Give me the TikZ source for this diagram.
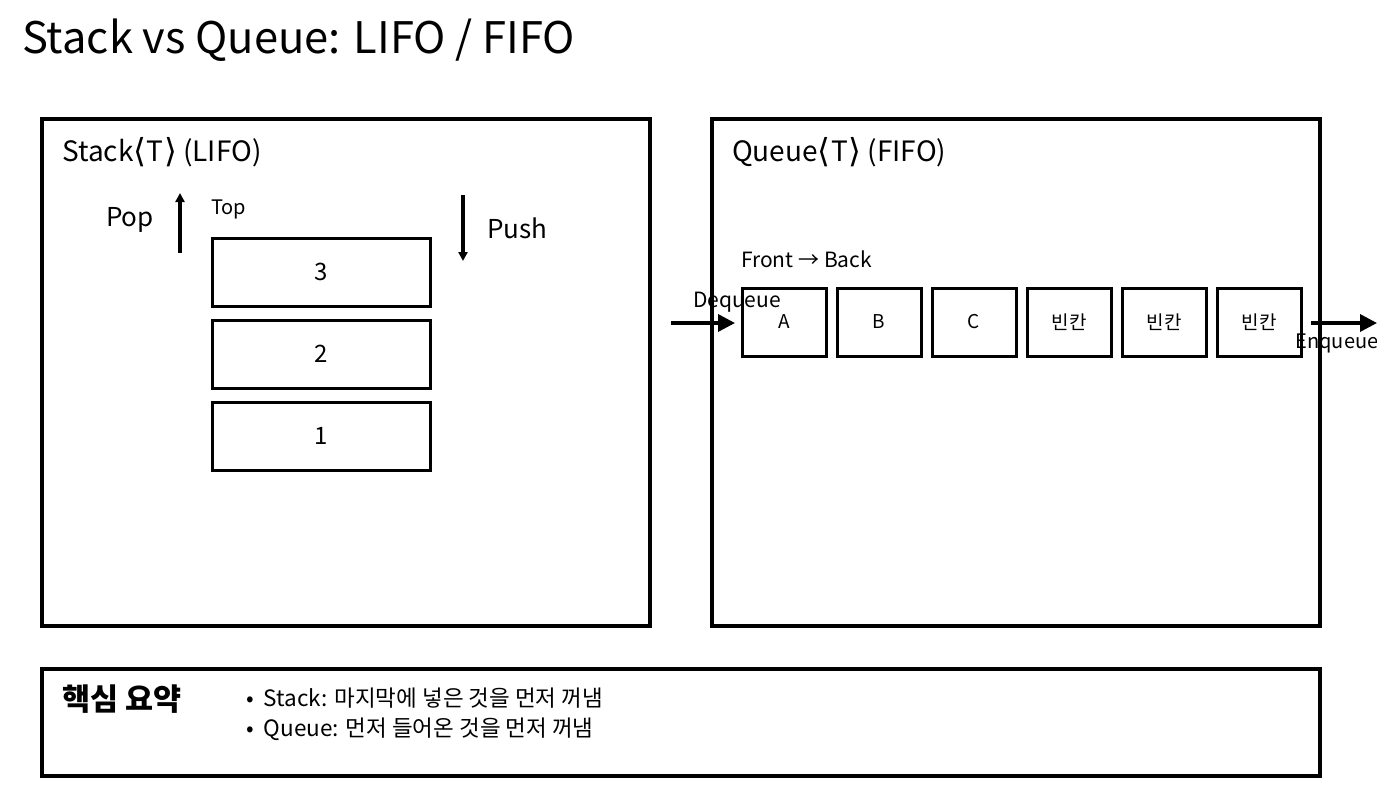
\documentclass[tikz,border=0pt]{standalone}
\usepackage{fontspec}
\setmainfont{Noto Sans CJK KR}
\newfontfamily\symfont{DejaVu Sans}
\usetikzlibrary{positioning,arrows.meta}
\definecolor{inkc}{RGB}{0,0,0}
\newcommand{\angl}[1]{{\symfont\fontsize{33}{36}\selectfont\raisebox{-1pt}{⟨}}\kern0.5pt#1\kern0.5pt{\symfont\fontsize{33}{36}\selectfont\raisebox{-1pt}{⟩}}}
\tikzset{
  panel/.style  = {draw=inkc, line width=3.5pt, anchor=north west, inner sep=0pt, outer sep=0pt},
  cell/.style   = {draw=inkc, line width=3pt, minimum width=218pt, minimum height=68pt,
                   inner sep=0pt, outer sep=0pt, font=\fontsize{24}{28}\selectfont},
  qcell/.style  = {draw=inkc, line width=3pt, minimum width=84pt, minimum height=68pt,
                   inner sep=0pt, outer sep=0pt, font=\fontsize{19}{22}\selectfont},
  ptitle/.style = {anchor=west, inner sep=0pt, font=\fontsize{28}{32}\selectfont},
  op/.style     = {anchor=west, inner sep=0pt, font=\fontsize{26}{30}\selectfont},
  lbl/.style    = {inner sep=0pt, font=\fontsize{20}{24}\selectfont},
  flow/.style   = {-{Triangle[length=17pt, width=17pt]}, line width=3.5pt, draw=inkc},
  thin/.style   = {-{Triangle[length=9pt, width=9pt]}, line width=3.5pt, draw=inkc},
}

\begin{document}
\begin{tikzpicture}[x=1pt, y=-1pt]
\useasboundingbox[fill=white] (0,0) rectangle (1377,792);

\node[anchor=west, inner sep=0pt, font=\fontsize{43.5}{48}\selectfont] (title) at (22,40)
  {Stack vs Queue: LIFO / FIFO};

% ---- stack panel ----
\node[panel, minimum width=608pt, minimum height=507pt] (stack) at (42,119) {};
\node[ptitle] (stitle) at (62,152) {Stack\angl{T} (LIFO)};
\node[cell] (s3) at (321,272) {\raisebox{-2pt}{3}};
\node[cell, below=14pt of s3] (s2) {\raisebox{-2pt}{2}};
\node[cell, below=14pt of s2] (s1) {\raisebox{-2pt}{1}};
\node[lbl, anchor=west] (top) at (211,209) {Top};
\node[op] (pop) at (106,220) {Pop};
\node[op] (push) at (487,228) {Push};
\coordinate (popa) at (180,253);
\coordinate (popb) at (180,193);
\coordinate (pusha) at (463,195);
\coordinate (pushb) at (463,261);
\draw[thin] (popa) -- (popb);
\draw[thin] (pusha) -- (pushb);

% ---- queue panel ----
\node[panel, minimum width=608pt, minimum height=507pt] (queue) at (712,119) {};
\node[ptitle] (qtitle) at (732,152) {Queue\angl{T} (FIFO)};
\node[lbl, anchor=west, font=\fontsize{21}{24}\selectfont] (fb) at (741,259) {Front → Back};
\node[qcell] (qa) at (784,322) {\raisebox{-2pt}{A}};
\node[qcell, right=11pt of qa] (qb) {\raisebox{-2pt}{B}};
\node[qcell, right=11pt of qb] (qc) {\raisebox{-2pt}{C}};
\node[qcell, right=11pt of qc] (qd) {빈칸};
\node[qcell, right=11pt of qd] (qe) {빈칸};
\node[qcell, right=11pt of qe] (qf) {빈칸};

\coordinate (deq) at (671,323);
\coordinate (enq) at (1377,323);
\draw[flow, shorten >=7pt] (deq) -- (qa.west |- deq);
\draw[flow, shorten <=10pt] (qf.east |- enq) -- (enq);
\node[lbl, font=\fontsize{21}{24}\selectfont] (deql) at (737,302) {Dequeue};
\node[lbl] (enql) at (1337,343) {Enqueue};

% ---- summary ----
\node[panel, minimum width=1278pt, minimum height=107pt] (sum) at (42,669) {};
\node[anchor=west, inner sep=0pt, font=\fontsize{30.5}{33}\bfseries] (key) at (62,699) {핵심 요약};
\node[anchor=north west, inner sep=0pt, align=left, font=\fontsize{22.5}{30}\selectfont] (notes) at (246,688)
  {\textbullet\ \ Stack: 마지막에 넣은 것을 먼저 꺼냄\\
   \textbullet\ \ Queue: 먼저 들어온 것을 먼저 꺼냄};

\end{tikzpicture}
\end{document}
